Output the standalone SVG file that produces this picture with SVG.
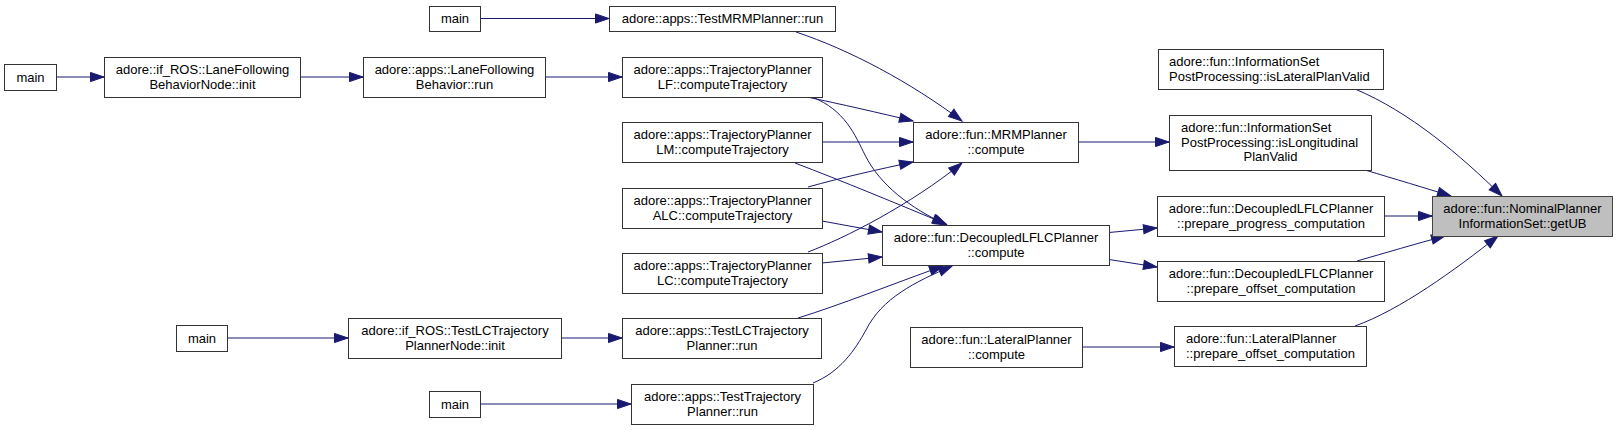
<svg xmlns="http://www.w3.org/2000/svg" width="1617" height="430" viewBox="0 0 1617 430">
<style>
.n rect{fill:#fff;stroke:#333;stroke-width:1}
.n.root rect{fill:#bfbfbf;stroke:#444}
.n text{font-family:"Liberation Sans",Arial,sans-serif;font-size:13px;fill:#000;text-anchor:middle}
.n text.l{text-anchor:start}
.e path{fill:none;stroke:#191970;stroke-width:1;marker-end:url(#arr)}
</style>
<defs>
<marker id="arr" markerUnits="userSpaceOnUse" markerWidth="15" markerHeight="11" refX="13.5" refY="5" orient="auto" overflow="visible">
<path d="M0,0.4 L13.5,5 L0,9.6 z" fill="#191970" stroke="#191970" stroke-width="1"/>
</marker>
</defs>
<rect width="1617" height="430" fill="#fff"/>
<g id="connectors" class="e">
<path d="M480,18.5 L609,18.5"/>
<path d="M56,77 L104,77"/>
<path d="M300,77 L363,77"/>
<path d="M545,77 L622,77"/>
<path d="M796,32 C850,50 910,82 962,121"/>
<path d="M807,97 C840,104 880,113 913,121"/>
<path d="M812,97 C845,110 855,135 865,155 C880,185 910,208 947,225"/>
<path d="M822,142 L913,142"/>
<path d="M795,163 C840,180 900,205 946,224"/>
<path d="M808,187 C840,178 880,169 913,162"/>
<path d="M822,221 L882,232"/>
<path d="M808,252 C845,238 910,205 962,163"/>
<path d="M822,263 L882,257"/>
<path d="M798,318 C840,305 890,285 943,266"/>
<path d="M813,383 C840,372 855,350 866,330 C882,298 915,282 952,266"/>
<path d="M227,338 L348,338"/>
<path d="M561,338 L622,338"/>
<path d="M480,404 L631,404"/>
<path d="M1078,142 L1169,142"/>
<path d="M1109,232.5 L1157,228"/>
<path d="M1109,259.5 L1157,267"/>
<path d="M1082,347 L1174,347"/>
<path d="M1355,89 C1410,112 1460,155 1502,196"/>
<path d="M1365,170 C1395,179 1425,188 1451,196"/>
<path d="M1384,216 L1432,216"/>
<path d="M1357,261 C1385,253 1415,244 1445,236"/>
<path d="M1355,326 C1400,310 1455,270 1498,236"/>
</g>
<g id="n_main1" class="n"><rect x="429.5" y="6.5" width="51" height="25"/><text x="455" y="23">main</text></g>
<g id="n_main2" class="n"><rect x="4.5" y="64.5" width="52" height="26"/><text x="30.5" y="81.5">main</text></g>
<g id="n_lfbnode" class="n"><rect x="104.5" y="57.5" width="196" height="40"/><text x="202.5" y="74">adore::if_ROS::LaneFollowing</text><text x="202.5" y="88.5">BehaviorNode::init</text></g>
<g id="n_lfbrun" class="n"><rect x="363.5" y="57.5" width="182" height="40"/><text x="454.5" y="74">adore::apps::LaneFollowing</text><text x="454.5" y="88.5">Behavior::run</text></g>
<g id="n_testmrm" class="n"><rect x="609.5" y="6.5" width="226" height="25"/><text x="722.5" y="23">adore::apps::TestMRMPlanner::run</text></g>
<g id="n_lf" class="n"><rect x="622.5" y="57.5" width="200" height="40"/><text x="722.5" y="74">adore::apps::TrajectoryPlanner</text><text x="722.5" y="88.5">LF::computeTrajectory</text></g>
<g id="n_lm" class="n"><rect x="622.5" y="122.5" width="200" height="40"/><text x="722.5" y="139">adore::apps::TrajectoryPlanner</text><text x="722.5" y="153.5">LM::computeTrajectory</text></g>
<g id="n_alc" class="n"><rect x="622.5" y="188.5" width="200" height="40"/><text x="722.5" y="205">adore::apps::TrajectoryPlanner</text><text x="722.5" y="219.5">ALC::computeTrajectory</text></g>
<g id="n_lc" class="n"><rect x="622.5" y="253.5" width="200" height="40"/><text x="722.5" y="270">adore::apps::TrajectoryPlanner</text><text x="722.5" y="284.5">LC::computeTrajectory</text></g>
<g id="n_main3" class="n"><rect x="176.5" y="325.5" width="51" height="26"/><text x="202" y="342.5">main</text></g>
<g id="n_lcnode" class="n"><rect x="348.5" y="318.5" width="213" height="40"/><text x="455" y="335">adore::if_ROS::TestLCTrajectory</text><text x="455" y="349.5">PlannerNode::init</text></g>
<g id="n_testlc" class="n"><rect x="622.5" y="318.5" width="199" height="40"/><text x="722" y="335">adore::apps::TestLCTrajectory</text><text x="722" y="349.5">Planner::run</text></g>
<g id="n_main4" class="n"><rect x="429.5" y="391.5" width="51" height="26"/><text x="455" y="408.5">main</text></g>
<g id="n_testtraj" class="n"><rect x="631.5" y="384.5" width="182" height="40"/><text x="722.5" y="401">adore::apps::TestTrajectory</text><text x="722.5" y="415.5">Planner::run</text></g>
<g id="n_mrm" class="n"><rect x="913.5" y="122.5" width="165" height="40"/><text x="996" y="139">adore::fun::MRMPlanner</text><text x="996" y="153.5">::compute</text></g>
<g id="n_dec" class="n"><rect x="882.5" y="225.5" width="227" height="40"/><text x="996" y="242">adore::fun::DecoupledLFLCPlanner</text><text x="996" y="256.5">::compute</text></g>
<g id="n_latc" class="n"><rect x="910.5" y="327.5" width="172" height="40"/><text x="996.5" y="344">adore::fun::LateralPlanner</text><text x="996.5" y="358.5">::compute</text></g>
<g id="n_islat" class="n"><rect x="1158.5" y="49.5" width="225" height="40"/><text class="l" x="1169" y="66">adore::fun::InformationSet</text><text class="l" x="1169" y="80.5">PostProcessing::isLateralPlanValid</text></g>
<g id="n_islong" class="n"><rect x="1169.5" y="115.5" width="202" height="55"/><text class="l" x="1181" y="132">adore::fun::InformationSet</text><text class="l" x="1181" y="146.5">PostProcessing::isLongitudinal</text><text x="1270.5" y="161">PlanValid</text></g>
<g id="n_prog" class="n"><rect x="1157.5" y="196.5" width="227" height="40"/><text x="1271" y="213">adore::fun::DecoupledLFLCPlanner</text><text x="1271" y="227.5">::prepare_progress_computation</text></g>
<g id="n_off" class="n"><rect x="1157.5" y="261.5" width="227" height="40"/><text x="1271" y="278">adore::fun::DecoupledLFLCPlanner</text><text x="1271" y="292.5">::prepare_offset_computation</text></g>
<g id="n_latoff" class="n"><rect x="1174.5" y="326.5" width="192" height="40"/><text class="l" x="1186" y="343">adore::fun::LateralPlanner</text><text class="l" x="1186" y="357.5">::prepare_offset_computation</text></g>
<g id="n_getub" class="n root"><rect x="1432.5" y="196.5" width="180" height="40"/><text x="1522.5" y="213">adore::fun::NominalPlanner</text><text x="1522.5" y="227.5">InformationSet::getUB</text></g>
</svg>
